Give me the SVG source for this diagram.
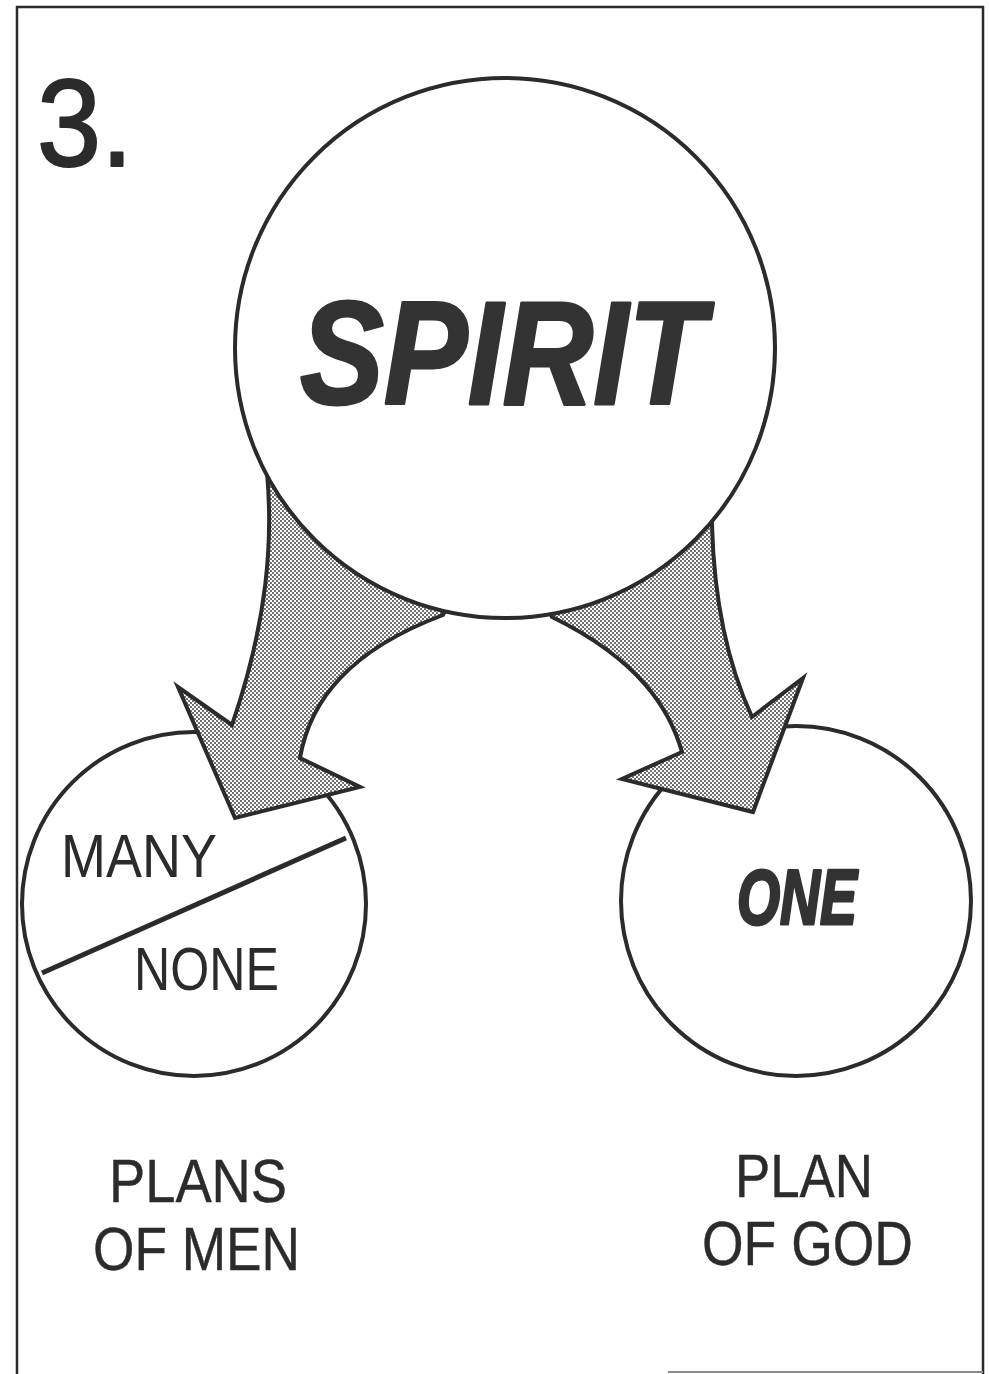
<svg xmlns="http://www.w3.org/2000/svg" width="989" height="1374" viewBox="0 0 989 1374">
  <style>
    .ink { stroke: #2b2b2b; stroke-width: 4; fill: #ffffff; }
    .arrow { stroke: #2b2b2b; stroke-width: 4; stroke-linejoin: miter; fill: url(#dots); }
    .hand { font-family: "Liberation Sans", "DejaVu Sans", sans-serif; fill: #2b2b2b; stroke: #2b2b2b; stroke-width: 0.4; }
    .thin { font-family: "Liberation Sans", "DejaVu Sans", sans-serif; fill: #2b2b2b; }
    .bold { font-family: "Liberation Sans", "DejaVu Sans", sans-serif; font-weight: bold; font-style: italic; fill: #333333; stroke: #333333; stroke-width: 3; stroke-linejoin: round; }
  </style>
  <defs>
    <pattern id="dots" width="4" height="4" patternUnits="userSpaceOnUse">
      <rect width="4" height="4" fill="#ffffff"/>
      <circle cx="1" cy="1" r="0.95" fill="#333333"/>
      <circle cx="3" cy="3" r="0.95" fill="#333333"/>
    </pattern>
  </defs>

  <rect width="989" height="1374" fill="#ffffff"/>

  <g id="frame">
    <path d="M17 1374 V7 H983 V1374" fill="none" stroke="#2b2b2b" stroke-width="2.5"/>
    <line x1="668" y1="1372" x2="983" y2="1372" stroke="#8a8a8a" stroke-width="2"/>
  </g>

  <g id="number">
    <text class="hand" x="37" y="166" font-size="124" textLength="96" lengthAdjust="spacingAndGlyphs" style="stroke-width:2.2;stroke-linejoin:round">3.</text>
  </g>

  <g id="plans-of-men-node">
    <circle class="ink" cx="194" cy="904" r="172"/>
    <line x1="42" y1="973" x2="346" y2="838" stroke="#2b2b2b" stroke-width="5"/>
    <text class="thin" x="61" y="877" font-size="61" textLength="156" lengthAdjust="spacingAndGlyphs">MANY</text>
    <text class="thin" x="134" y="990" font-size="61" textLength="145" lengthAdjust="spacingAndGlyphs">NONE</text>
  </g>

  <g id="plan-of-god-node">
    <circle class="ink" cx="796" cy="901" r="175"/>
    <text class="bold" x="737" y="924" font-size="78" textLength="120" lengthAdjust="spacingAndGlyphs">ONE</text>
  </g>

  <g id="connectors">
    <path class="arrow" d="M272 440 L267 472 C273 540 268 620 232 725 L178 687 L235 818 L360 787 L300 758 C310 700 350 650 443 615 L460 580 Z"/>
    <path class="arrow" d="M711 495 L712 525 C714 600 728 665 752 717 L803 678 L753 812 L622 779 L682 752 C670 710 640 660 552 617 L540 590 Z"/>
  </g>

  <g id="spirit-node">
    <circle class="ink" cx="505" cy="348" r="270"/>
    <text class="bold" x="300" y="404" font-size="146" textLength="405" lengthAdjust="spacingAndGlyphs">SPIRIT</text>
  </g>

  <g id="labels">
    <text class="hand" x="109" y="1202" font-size="61" textLength="178" lengthAdjust="spacingAndGlyphs">PLANS</text>
    <text class="hand" x="93" y="1270" font-size="62" textLength="207" lengthAdjust="spacingAndGlyphs">OF MEN</text>
    <text class="hand" x="735" y="1197" font-size="61" textLength="138" lengthAdjust="spacingAndGlyphs">PLAN</text>
    <text class="hand" x="702" y="1265" font-size="63" textLength="211" lengthAdjust="spacingAndGlyphs">OF GOD</text>
  </g>
</svg>
